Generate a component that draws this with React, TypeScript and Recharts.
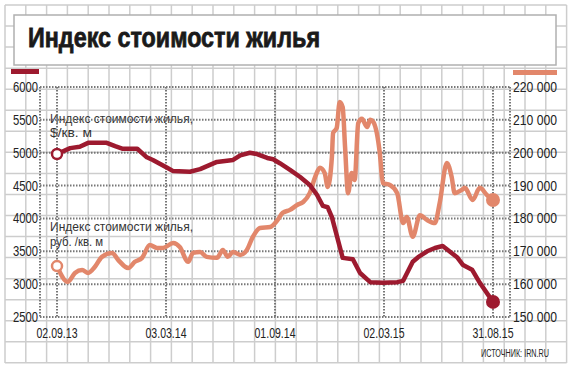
import { LineChart, Line, XAxis, YAxis, CartesianGrid } from "recharts";

// --- dates (days since 02.09.13) and values
const usdDays = [0, 22, 38, 52, 83, 97, 110, 134, 150, 160, 184, 194, 222, 239, 267, 294, 306, 322, 334, 351, 361, 372, 389, 406, 422, 434, 444, 452, 459, 477, 494, 506, 523, 544, 568, 578, 594, 603, 618, 631, 644, 668, 678, 693, 706, 728];
const usdValues = [4980, 5070, 5090, 5150, 5150, 5100, 5060, 5060, 4930, 4890, 4770, 4720, 4710, 4750, 4860, 4890, 4960, 5000, 4980, 4920, 4900, 4840, 4740, 4630, 4510, 4360, 4190, 4170, 4020, 3400, 3380, 3170, 3030, 3020, 3030, 3050, 3340, 3410, 3500, 3550, 3580, 3410, 3290, 3220, 3020, 2730];

const rubDays = [0, 18, 30, 42, 52, 63, 75, 92, 102, 119, 130, 142, 155, 167, 177, 194, 205, 219, 227, 239, 250, 267, 277, 285, 294, 306, 317, 327, 339, 356, 367, 377, 389, 401, 411, 422, 431, 439, 447, 452, 459, 461, 467, 472, 477, 481, 486, 492, 497, 503, 509, 518, 523, 528, 539, 544, 556, 568, 578, 584, 594, 606, 618, 631, 639, 651, 659, 664, 676, 681, 694, 706, 718, 728];
const rubValues = [165500, 160700, 163400, 164300, 163400, 165200, 168300, 169500, 167400, 164900, 166800, 168000, 171900, 171000, 171000, 172500, 171300, 166800, 169500, 169800, 168300, 168000, 170400, 168300, 169800, 168900, 170400, 174400, 177100, 177400, 179200, 181700, 182600, 184100, 185000, 187700, 192600, 195400, 193800, 189600, 198700, 206000, 207500, 215400, 213900, 201700, 187700, 193800, 191700, 209000, 210300, 207800, 210000, 209400, 199900, 190800, 190200, 187700, 178600, 180400, 174400, 181000, 179500, 178600, 184700, 196900, 192600, 187700, 188700, 189300, 185600, 189300, 187100, 185600];

const dateTicks = [0, 182, 364, 546, 728];
const dateLabels = ["02.09.13", "03.03.14", "01.09.14", "02.03.15", "31.08.15"];
const usdTicks = [2500, 3000, 3500, 4000, 4500, 5000, 5500, 6000];
const rubTicks = [150000, 160000, 170000, 180000, 190000, 200000, 210000, 220000];

const title = "Индекс стоимости жилья";
const usdLabel = ["Индекс стоимости жилья,", "$/кв. м"];
const rubLabel = ["Индекс стоимости жилья,", "руб. /кв. м"];
const source = "ИСТОЧНИК: IRN.RU";

const DARK = "#9d1a2f";
const SALMON = "#e2876b";
const FONT = "'Liberation Sans', Arial, sans-serif";

const usdData = usdDays.map((d, i) => ({ d, v: usdValues[i] }));
const rubData = rubDays.map((d, i) => ({ d, v: rubValues[i] }));

const makeDot = (color: string, n: number) => (p: any) => {
  if (p.index === 0)
    return <circle key="s" cx={p.cx} cy={p.cy} r={5} fill="#fff" stroke={color} strokeWidth={2.5} />;
  if (p.index === n - 1) return <circle key="e" cx={p.cx} cy={p.cy} r={7} fill={color} />;
  return <g key={p.index} />;
};

const LeftTick = (p: any) => (
  <text x={38} y={p.y + 5} textAnchor="end" fontSize={14} fill="#222" fontFamily={FONT} textLength={25} lengthAdjust="spacingAndGlyphs">
    {p.payload.value}
  </text>
);

const RightTick = (p: any) => (
  <text x={513} y={p.y + 5} fontSize={14} fill="#222" fontFamily={FONT} textLength={44} lengthAdjust="spacingAndGlyphs">
    {p.payload.value / 1000 + " 000"}
  </text>
);

const DateTick = (p: any) => (
  <text x={p.x} y={338} textAnchor="middle" fontSize={14} fill="#222" fontFamily={FONT} textLength={41} lengthAdjust="spacingAndGlyphs">
    {dateLabels[dateTicks.indexOf(p.payload.value)]}
  </text>
);

function Background() {
  const vx = Array.from({ length: 28 }, (_, k) => 5 + 20.8 * k);
  const hy = Array.from({ length: 18 }, (_, k) => 5 + 21.05 * k);
  return (
    <svg width={570} height={368} style={{ position: "absolute", left: 0, top: 0 }}>
      {vx.map((x) => (
        <line key={"v" + x} x1={x} x2={x} y1={5} y2={362.9} stroke="#cdcdcd" strokeWidth={1.5} />
      ))}
      {hy.map((y) => (
        <line key={"h" + y} x1={5} x2={566.6} y1={y} y2={y} stroke="#cdcdcd" strokeWidth={1.5} />
      ))}
      <rect x={14} y={15} width={542} height={50} fill="#fff" stroke="#b0b0b0" strokeWidth={1.5} />
      <text x={28} y={47} fontSize={28} fontWeight="bold" fill="#1a1a1a" stroke="#1a1a1a" strokeWidth={0.8} fontFamily={FONT} textLength={292} lengthAdjust="spacingAndGlyphs">
        {title}
      </text>
      <rect x={11} y={69} width={28} height={5} fill={DARK} />
      <rect x={513} y={70} width={44} height={5} fill={SALMON} />
      <text x={50} y={123} fontSize={12} fill="#333" fontFamily={FONT} textLength={143} lengthAdjust="spacingAndGlyphs">{usdLabel[0]}</text>
      <text x={50} y={136.5} fontSize={12} fill="#333" fontFamily={FONT} textLength={42} lengthAdjust="spacingAndGlyphs">{usdLabel[1]}</text>
      <text x={50} y={231} fontSize={12} fill="#333" fontFamily={FONT} textLength={143} lengthAdjust="spacingAndGlyphs">{rubLabel[0]}</text>
      <text x={50} y={246} fontSize={12} fill="#333" fontFamily={FONT} textLength={53} lengthAdjust="spacingAndGlyphs">{rubLabel[1]}</text>
      <text x={481} y={356.5} fontSize={10} fill="#222" fontFamily={FONT} textLength={68} lengthAdjust="spacingAndGlyphs">{source}</text>
    </svg>
  );
}

export default function App() {
  return (
    <div style={{ position: "absolute", left: 0, top: 0, width: 570, height: 368, background: "#fff" }}>
      <Background />
      <div style={{ position: "absolute", left: 0, top: 0 }}>
        <LineChart width={570} height={368} margin={{ top: 87, right: 0, bottom: 21, left: 0 }}>
          <CartesianGrid yAxisId="left" stroke="#777" strokeWidth={2} strokeDasharray="1.5 1.5" />
          <XAxis
            type="number"
            dataKey="d"
            domain={[-28.4, 756.4]}
            ticks={dateTicks}
            axisLine={false}
            tickLine={false}
            height={30}
            tick={<DateTick />}
            allowDataOverflow
          />
          <YAxis yAxisId="left" width={40} domain={[2500, 6000]} ticks={usdTicks} axisLine={false} tickLine={false} tick={<LeftTick />} allowDataOverflow />
          <YAxis yAxisId="right" orientation="right" width={60} domain={[150000, 220000]} ticks={rubTicks} axisLine={false} tickLine={false} tick={<RightTick />} allowDataOverflow />
          <Line
            yAxisId="right"
            data={rubData}
            dataKey="v"
            type="monotone"
            stroke={SALMON}
            strokeWidth={4.5}
            dot={makeDot(SALMON, rubData.length)}
            activeDot={false}
            isAnimationActive={false}
          />
          <Line
            yAxisId="left"
            data={usdData}
            dataKey="v"
            type="linear"
            stroke={DARK}
            strokeWidth={4.5}
            strokeLinejoin="round"
            dot={makeDot(DARK, usdData.length)}
            activeDot={false}
            isAnimationActive={false}
          />
        </LineChart>
      </div>
    </div>
  );
}
